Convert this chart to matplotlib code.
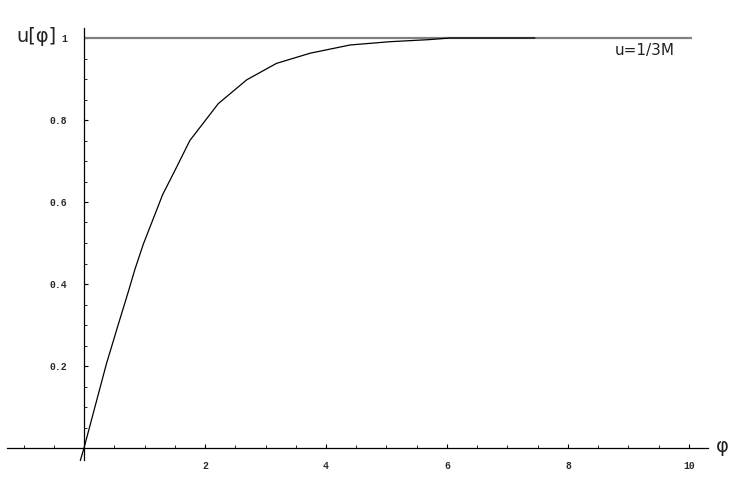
import matplotlib
matplotlib.use("Agg")
import matplotlib.pyplot as plt
from matplotlib.ticker import FixedLocator

# data
phi = [-0.06, 0.0, 0.37, 0.57, 0.73, 0.84, 0.98, 1.30, 1.50, 1.75, 2.22,
       2.69, 3.18, 3.74, 4.40, 5.06, 5.70, 6.05, 7.45]
u = [-0.03, 0.0, 0.205, 0.303, 0.38, 0.435, 0.497, 0.618, 0.676, 0.75, 0.84,
     0.898, 0.938, 0.963, 0.983, 0.991, 0.996, 1.0, 1.0]
level_x = [0.0, 10.05]
level_y = [1.0, 1.0]
xticks = [2, 4, 6, 8, 10]
yticks = [0.2, 0.4, 0.6, 0.8, 1.0]
ytick_labels = ["0.2", "0.4", "0.6", "0.8", "1"]
xminor = [-1.0, -0.5, 0.5, 1.0, 1.5, 2.5, 3.0, 3.5, 4.5, 5.0, 5.5, 6.5, 7.0,
          7.5, 8.5, 9.0, 9.5]
yminor = [0.05, 0.1, 0.15, 0.25, 0.3, 0.35, 0.45, 0.5, 0.55, 0.65, 0.7, 0.75,
          0.85, 0.9, 0.95]

W, H = 747, 486
fig = plt.figure(figsize=(W / 100, H / 100), dpi=100)
ax = fig.add_axes([0, 0, 1, 1])
ax.set_xlim(-84 / 60.5, (W - 84) / 60.5)
ax.set_ylim((448 - H) / 410, 448 / 410)

ax.plot(level_x, level_y, color="#808080", lw=1.6, solid_capstyle="butt", zorder=2)
ax.plot(phi, u, color="black", lw=0.9, zorder=3)

for s in ["top", "right"]:
    ax.spines[s].set_visible(False)
ax.spines["left"].set_position(("data", 0))
ax.spines["bottom"].set_position(("data", 0))
ax.spines["left"].set_bounds(-0.03, 1.024)
ax.spines["bottom"].set_bounds(-1.27, 10.31)
ax.spines["left"].set_linewidth(0.9)
ax.spines["bottom"].set_linewidth(0.9)

ax.xaxis.set_major_locator(FixedLocator(xticks))
ax.xaxis.set_minor_locator(FixedLocator(xminor))
ax.yaxis.set_major_locator(FixedLocator(yticks))
ax.yaxis.set_minor_locator(FixedLocator(yminor))
ax.set_yticklabels(ytick_labels)
ax.set_xticklabels([str(v) for v in xticks])

ax.tick_params(which="major", direction="in", length=3.2, width=0.8, colors="black",
               labelcolor="#2a2a2a")
ax.tick_params(which="minor", direction="in", length=2.2, width=0.6, colors="black")
ax.tick_params(axis="x", which="major", pad=9)
ax.tick_params(axis="y", which="major", pad=12)
for lab in ax.get_xticklabels() + ax.get_yticklabels():
    lab.set_fontfamily("Liberation Mono")
    lab.set_fontsize(7)
    lab.set_fontweight("bold")
ax.patch.set_alpha(0)

fig.text(36 / W, 1 - 37 / H, "u[φ]", fontsize=14, ha="center", va="center",
         color="#222222", family="DejaVu Sans")
fig.text(722 / W, 1 - 446 / H, "φ", fontsize=14, ha="center", va="center",
         color="#222222", family="DejaVu Sans")
fig.text(645 / W, 1 - 50 / H, "u=1/3M", fontsize=11, ha="center", va="center",
         color="#222222", family="DejaVu Sans")

fig.savefig("out.png", dpi=100, facecolor="white")
